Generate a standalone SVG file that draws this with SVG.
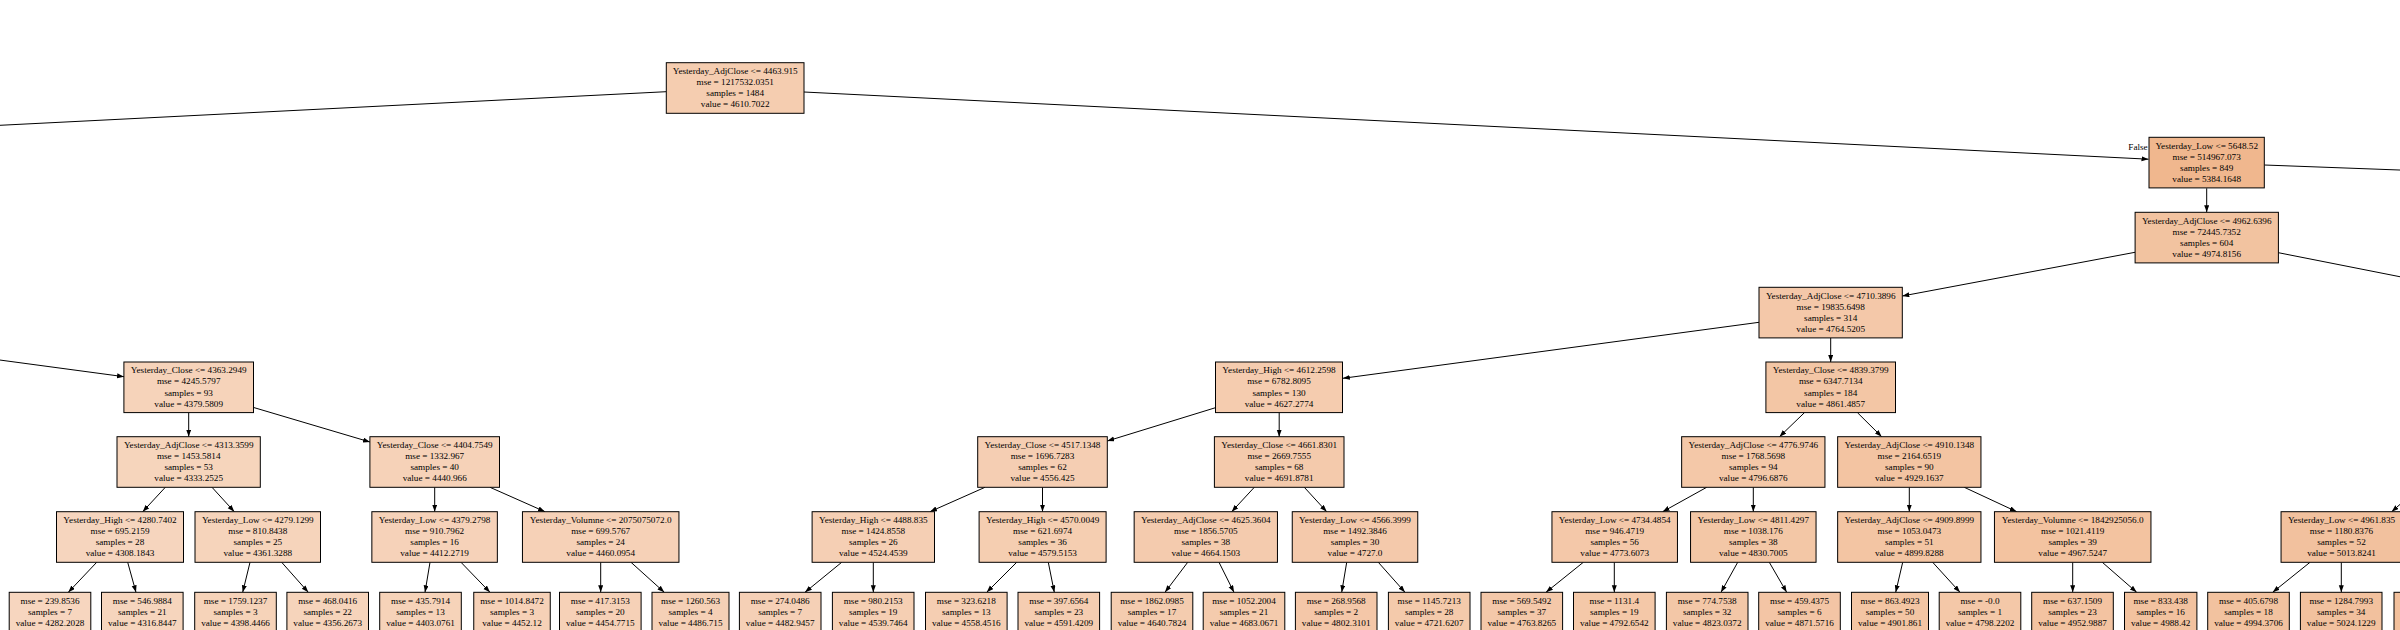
<svg xmlns="http://www.w3.org/2000/svg" width="2400" height="630" viewBox="0 0 2400 630">
<style>
.node rect{stroke:#000;stroke-width:1}
.node text{font-family:"Liberation Serif","Times New Roman",serif;font-size:9.2px;text-anchor:middle;fill:#000}
.lbl{font-family:"Liberation Serif","Times New Roman",serif;font-size:9.2px;text-anchor:middle;fill:#000}
.edges line{stroke:#000;stroke-width:1}
.edges line.a{marker-end:url(#ah)}
</style>
<defs>
<marker id="ah" markerUnits="userSpaceOnUse" markerWidth="8" markerHeight="6" refX="7" refY="2.5" orient="auto"><path d="M0,0 L7,2.5 L0,5 z" fill="#000"/></marker>
</defs>
<rect width="2400" height="630" fill="#fff"/>
<g id="edges" class="edges">
<line x1="666.3" y1="91.7" x2="-10" y2="125.8"/>
<line class="a" x1="-10" y1="358.7" x2="124" y2="376.7"/>
<line class="a" x1="804" y1="92" x2="2148.5" y2="159.2"/>
<line x1="2264.3" y1="165" x2="2410" y2="170.4"/>
<line class="a" x1="2206.7" y1="188.3" x2="2206.7" y2="212.3"/>
<line x1="2278.4" y1="252.7" x2="2410" y2="278.7"/>
<line class="a" x1="2135" y1="252.3" x2="1902.3" y2="296"/>
<line class="a" x1="1759" y1="322.3" x2="1342.8" y2="378.3"/>
<line class="a" x1="1830.7" y1="337.7" x2="1830.7" y2="362"/>
<line class="a" x1="188.7" y1="412.6" x2="188.7" y2="436.7"/>
<line class="a" x1="253" y1="407.3" x2="370" y2="442"/>
<line class="a" x1="1215.5" y1="407.7" x2="1107.3" y2="441"/>
<line class="a" x1="1279.2" y1="412.6" x2="1279.2" y2="436.7"/>
<line class="a" x1="1804.5" y1="412.6" x2="1779.5" y2="436.7"/>
<line class="a" x1="1857.4" y1="412.6" x2="1881.7" y2="436.7"/>
<line class="a" x1="165.3" y1="487.3" x2="142.7" y2="511.7"/>
<line class="a" x1="212" y1="487.3" x2="234.3" y2="511.7"/>
<line class="a" x1="434.7" y1="487.3" x2="434.7" y2="511.7"/>
<line class="a" x1="490" y1="487.3" x2="545" y2="511.7"/>
<line class="a" x1="985" y1="487.3" x2="930" y2="511.7"/>
<line class="a" x1="1042.5" y1="487.3" x2="1042.5" y2="511.7"/>
<line class="a" x1="1254.3" y1="487.3" x2="1231.7" y2="511.7"/>
<line class="a" x1="1304.3" y1="487.3" x2="1326.7" y2="511.7"/>
<line class="a" x1="1706.7" y1="487.3" x2="1662.7" y2="511.7"/>
<line class="a" x1="1753.3" y1="487.3" x2="1753.3" y2="511.7"/>
<line class="a" x1="1909.3" y1="487.3" x2="1909.3" y2="511.7"/>
<line class="a" x1="1964.3" y1="487.3" x2="2016.7" y2="511.7"/>
<line class="a" x1="2410" y1="495.6" x2="2391.7" y2="511.7"/>
<line class="a" x1="96.7" y1="562.3" x2="68.3" y2="592.3"/>
<line class="a" x1="127.7" y1="562.3" x2="136" y2="592.3"/>
<line class="a" x1="250" y1="562.3" x2="242.7" y2="592.3"/>
<line class="a" x1="281.7" y1="562.3" x2="308.3" y2="592.3"/>
<line class="a" x1="430" y1="562.3" x2="425" y2="592.3"/>
<line class="a" x1="461" y1="562.3" x2="490" y2="592.3"/>
<line class="a" x1="600.7" y1="562.3" x2="600.7" y2="592.3"/>
<line class="a" x1="631" y1="562.3" x2="664.3" y2="592.3"/>
<line class="a" x1="841.7" y1="562.3" x2="805" y2="592.3"/>
<line class="a" x1="873.3" y1="562.3" x2="873.3" y2="592.3"/>
<line class="a" x1="1016.7" y1="562.3" x2="986.7" y2="592.3"/>
<line class="a" x1="1048.3" y1="562.3" x2="1054.3" y2="592.3"/>
<line class="a" x1="1187.7" y1="562.3" x2="1165" y2="592.3"/>
<line class="a" x1="1219" y1="562.3" x2="1234" y2="592.3"/>
<line class="a" x1="1346.7" y1="562.3" x2="1341.7" y2="592.3"/>
<line class="a" x1="1378.3" y1="562.3" x2="1405" y2="592.3"/>
<line class="a" x1="1583.3" y1="562.3" x2="1546" y2="592.3"/>
<line class="a" x1="1614.3" y1="562.3" x2="1614.3" y2="592.3"/>
<line class="a" x1="1737.7" y1="562.3" x2="1721" y2="592.3"/>
<line class="a" x1="1769.3" y1="562.3" x2="1786.7" y2="592.3"/>
<line class="a" x1="1902.7" y1="562.3" x2="1895.7" y2="592.3"/>
<line class="a" x1="1932.7" y1="562.3" x2="1960" y2="592.3"/>
<line class="a" x1="2072.7" y1="562.3" x2="2072.7" y2="592.3"/>
<line class="a" x1="2102.3" y1="562.3" x2="2136.7" y2="592.3"/>
<line class="a" x1="2310" y1="562.3" x2="2272.7" y2="592.3"/>
<line class="a" x1="2341.3" y1="562.3" x2="2341.3" y2="592.3"/>
<text class="lbl" x="2138" y="149.5">False</text>
</g>

<g id="n_root" class="node"><rect x="666.3" y="62.7" width="137.7" height="50.6" fill="#f5cdb0"/><text x="735.2" y="74">Yesterday_AdjClose &lt;= 4463.915</text><text x="735.2" y="85.1">mse = 1217532.0351</text><text x="735.2" y="96.2">samples = 1484</text><text x="735.2" y="107.3">value = 4610.7022</text></g>

<g id="n_low5648" class="node"><rect x="2149" y="137.3" width="115.3" height="50.6" fill="#f0b78e"/><text x="2206.7" y="148.6">Yesterday_Low &lt;= 5648.52</text><text x="2206.7" y="159.7">mse = 514967.073</text><text x="2206.7" y="170.8">samples = 849</text><text x="2206.7" y="181.9">value = 5384.1648</text></g>

<g id="n_adj4962" class="node"><rect x="2135.1" y="212.3" width="143.3" height="50.6" fill="#f2c3a0"/><text x="2206.7" y="223.6">Yesterday_AdjClose &lt;= 4962.6396</text><text x="2206.7" y="234.7">mse = 72445.7352</text><text x="2206.7" y="245.8">samples = 604</text><text x="2206.7" y="256.9">value = 4974.8156</text></g>

<g id="n_adj4710" class="node"><rect x="1759" y="287.3" width="143.3" height="50.6" fill="#f4c8a9"/><text x="1830.7" y="298.6">Yesterday_AdjClose &lt;= 4710.3896</text><text x="1830.7" y="309.7">mse = 19835.6498</text><text x="1830.7" y="320.8">samples = 314</text><text x="1830.7" y="331.9">value = 4764.5205</text></g>

<g id="n_close4363" class="node"><rect x="123.9" y="362" width="129.6" height="50.6" fill="#f6d3ba"/><text x="188.7" y="373.3">Yesterday_Close &lt;= 4363.2949</text><text x="188.7" y="384.4">mse = 4245.5797</text><text x="188.7" y="395.5">samples = 93</text><text x="188.7" y="406.6">value = 4379.5809</text></g>

<g id="n_high4612" class="node"><rect x="1215.5" y="362" width="127" height="50.6" fill="#f5ccaf"/><text x="1279" y="373.3">Yesterday_High &lt;= 4612.2598</text><text x="1279" y="384.4">mse = 6782.8095</text><text x="1279" y="395.5">samples = 130</text><text x="1279" y="406.6">value = 4627.2774</text></g>

<g id="n_close4839" class="node"><rect x="1765.9" y="362" width="129.6" height="50.6" fill="#f3c6a5"/><text x="1830.7" y="373.3">Yesterday_Close &lt;= 4839.3799</text><text x="1830.7" y="384.4">mse = 6347.7134</text><text x="1830.7" y="395.5">samples = 184</text><text x="1830.7" y="406.6">value = 4861.4857</text></g>

<g id="n_adj4313" class="node"><rect x="117" y="436.7" width="143.3" height="50.6" fill="#f6d5bc"/><text x="188.7" y="448">Yesterday_AdjClose &lt;= 4313.3599</text><text x="188.7" y="459.1">mse = 1453.5814</text><text x="188.7" y="470.2">samples = 53</text><text x="188.7" y="481.3">value = 4333.2525</text></g>

<g id="n_close4404" class="node"><rect x="369.9" y="436.7" width="129.6" height="50.6" fill="#f6d2b8"/><text x="434.7" y="448">Yesterday_Close &lt;= 4404.7549</text><text x="434.7" y="459.1">mse = 1332.967</text><text x="434.7" y="470.2">samples = 40</text><text x="434.7" y="481.3">value = 4440.966</text></g>

<g id="n_close4517" class="node"><rect x="977.7" y="436.7" width="129.6" height="50.6" fill="#f5ceb3"/><text x="1042.5" y="448">Yesterday_Close &lt;= 4517.1348</text><text x="1042.5" y="459.1">mse = 1696.7283</text><text x="1042.5" y="470.2">samples = 62</text><text x="1042.5" y="481.3">value = 4556.425</text></g>

<g id="n_close4661" class="node"><rect x="1214.4" y="436.7" width="129.6" height="50.6" fill="#f4caac"/><text x="1279.2" y="448">Yesterday_Close &lt;= 4661.8301</text><text x="1279.2" y="459.1">mse = 2669.7555</text><text x="1279.2" y="470.2">samples = 68</text><text x="1279.2" y="481.3">value = 4691.8781</text></g>

<g id="n_adj4776" class="node"><rect x="1681.65" y="436.7" width="143.3" height="50.6" fill="#f4c8a8"/><text x="1753.3" y="448">Yesterday_AdjClose &lt;= 4776.9746</text><text x="1753.3" y="459.1">mse = 1768.5698</text><text x="1753.3" y="470.2">samples = 94</text><text x="1753.3" y="481.3">value = 4796.6876</text></g>

<g id="n_adj4910" class="node"><rect x="1837.65" y="436.7" width="143.3" height="50.6" fill="#f3c4a2"/><text x="1909.3" y="448">Yesterday_AdjClose &lt;= 4910.1348</text><text x="1909.3" y="459.1">mse = 2164.6519</text><text x="1909.3" y="470.2">samples = 90</text><text x="1909.3" y="481.3">value = 4929.1637</text></g>

<g id="n_high4280" class="node"><rect x="56.5" y="511.7" width="127" height="50.6" fill="#f6d5be"/><text x="120" y="523">Yesterday_High &lt;= 4280.7402</text><text x="120" y="534.1">mse = 695.2159</text><text x="120" y="545.2">samples = 28</text><text x="120" y="556.3">value = 4308.1843</text></g>

<g id="n_low4279" class="node"><rect x="195" y="511.7" width="125.5" height="50.6" fill="#f6d4bb"/><text x="257.8" y="523">Yesterday_Low &lt;= 4279.1299</text><text x="257.8" y="534.1">mse = 810.8438</text><text x="257.8" y="545.2">samples = 25</text><text x="257.8" y="556.3">value = 4361.3288</text></g>

<g id="n_low4379" class="node"><rect x="371.85" y="511.7" width="125.5" height="50.6" fill="#f6d2b9"/><text x="434.6" y="523">Yesterday_Low &lt;= 4379.2798</text><text x="434.6" y="534.1">mse = 910.7962</text><text x="434.6" y="545.2">samples = 16</text><text x="434.6" y="556.3">value = 4412.2719</text></g>

<g id="n_vol2075" class="node"><rect x="522.45" y="511.7" width="156.5" height="50.6" fill="#f6d1b7"/><text x="600.7" y="523">Yesterday_Volumne &lt;= 2075075072.0</text><text x="600.7" y="534.1">mse = 699.5767</text><text x="600.7" y="545.2">samples = 24</text><text x="600.7" y="556.3">value = 4460.0954</text></g>

<g id="n_high4488" class="node"><rect x="812.1" y="511.7" width="122.4" height="50.6" fill="#f5cfb4"/><text x="873.3" y="523">Yesterday_High &lt;= 4488.835</text><text x="873.3" y="534.1">mse = 1424.8558</text><text x="873.3" y="545.2">samples = 26</text><text x="873.3" y="556.3">value = 4524.4539</text></g>

<g id="n_high4570" class="node"><rect x="979.1" y="511.7" width="127" height="50.6" fill="#f5ceb1"/><text x="1042.6" y="523">Yesterday_High &lt;= 4570.0049</text><text x="1042.6" y="534.1">mse = 621.6974</text><text x="1042.6" y="545.2">samples = 36</text><text x="1042.6" y="556.3">value = 4579.5153</text></g>

<g id="n_adj4625" class="node"><rect x="1134.15" y="511.7" width="143.3" height="50.6" fill="#f4cbae"/><text x="1205.8" y="523">Yesterday_AdjClose &lt;= 4625.3604</text><text x="1205.8" y="534.1">mse = 1856.5705</text><text x="1205.8" y="545.2">samples = 38</text><text x="1205.8" y="556.3">value = 4664.1503</text></g>

<g id="n_low4566" class="node"><rect x="1292.25" y="511.7" width="125.5" height="50.6" fill="#f4c9ab"/><text x="1355" y="523">Yesterday_Low &lt;= 4566.3999</text><text x="1355" y="534.1">mse = 1492.3846</text><text x="1355" y="545.2">samples = 30</text><text x="1355" y="556.3">value = 4727.0</text></g>

<g id="n_low4734" class="node"><rect x="1551.95" y="511.7" width="125.5" height="50.6" fill="#f4c8a9"/><text x="1614.7" y="523">Yesterday_Low &lt;= 4734.4854</text><text x="1614.7" y="534.1">mse = 946.4719</text><text x="1614.7" y="545.2">samples = 56</text><text x="1614.7" y="556.3">value = 4773.6073</text></g>

<g id="n_low4811" class="node"><rect x="1690.55" y="511.7" width="125.5" height="50.6" fill="#f3c7a6"/><text x="1753.3" y="523">Yesterday_Low &lt;= 4811.4297</text><text x="1753.3" y="534.1">mse = 1038.176</text><text x="1753.3" y="545.2">samples = 38</text><text x="1753.3" y="556.3">value = 4830.7005</text></g>

<g id="n_adj4909" class="node"><rect x="1837.65" y="511.7" width="143.3" height="50.6" fill="#f3c5a3"/><text x="1909.3" y="523">Yesterday_AdjClose &lt;= 4909.8999</text><text x="1909.3" y="534.1">mse = 1053.0473</text><text x="1909.3" y="545.2">samples = 51</text><text x="1909.3" y="556.3">value = 4899.8288</text></g>

<g id="n_vol1842" class="node"><rect x="1994.45" y="511.7" width="156.5" height="50.6" fill="#f3c3a0"/><text x="2072.7" y="523">Yesterday_Volumne &lt;= 1842925056.0</text><text x="2072.7" y="534.1">mse = 1021.4119</text><text x="2072.7" y="545.2">samples = 39</text><text x="2072.7" y="556.3">value = 4967.5247</text></g>

<g id="n_low4961" class="node"><rect x="2281.05" y="511.7" width="120.9" height="50.6" fill="#f2c19e"/><text x="2341.5" y="523">Yesterday_Low &lt;= 4961.835</text><text x="2341.5" y="534.1">mse = 1180.8376</text><text x="2341.5" y="545.2">samples = 52</text><text x="2341.5" y="556.3">value = 5013.8241</text></g>

<g id="l_239" class="node"><rect x="9.2" y="592.3" width="81.6" height="39.6" fill="#f7d6bf"/><text x="50" y="603.8">mse = 239.8536</text><text x="50" y="614.9">samples = 7</text><text x="50" y="626">value = 4282.2028</text></g>
<g id="l_546" class="node"><rect x="101.5" y="592.3" width="81.6" height="39.6" fill="#f6d5bd"/><text x="142.3" y="603.8">mse = 546.9884</text><text x="142.3" y="614.9">samples = 21</text><text x="142.3" y="626">value = 4316.8447</text></g>
<g id="l_1759" class="node"><rect x="194.7" y="592.3" width="81.6" height="39.6" fill="#f6d3b9"/><text x="235.5" y="603.8">mse = 1759.1237</text><text x="235.5" y="614.9">samples = 3</text><text x="235.5" y="626">value = 4398.4466</text></g>
<g id="l_468" class="node"><rect x="286.9" y="592.3" width="81.6" height="39.6" fill="#f6d4bb"/><text x="327.7" y="603.8">mse = 468.0416</text><text x="327.7" y="614.9">samples = 22</text><text x="327.7" y="626">value = 4356.2673</text></g>
<g id="l_435" class="node"><rect x="379.7" y="592.3" width="81.6" height="39.6" fill="#f6d3b9"/><text x="420.5" y="603.8">mse = 435.7914</text><text x="420.5" y="614.9">samples = 13</text><text x="420.5" y="626">value = 4403.0761</text></g>
<g id="l_1014" class="node"><rect x="473.75" y="592.3" width="76.5" height="39.6" fill="#f6d1b7"/><text x="512" y="603.8">mse = 1014.8472</text><text x="512" y="614.9">samples = 3</text><text x="512" y="626">value = 4452.12</text></g>
<g id="l_417" class="node"><rect x="559.5" y="592.3" width="81.6" height="39.6" fill="#f6d1b7"/><text x="600.3" y="603.8">mse = 417.3153</text><text x="600.3" y="614.9">samples = 20</text><text x="600.3" y="626">value = 4454.7715</text></g>
<g id="l_1260" class="node"><rect x="652" y="592.3" width="77" height="39.6" fill="#f5d0b6"/><text x="690.5" y="603.8">mse = 1260.563</text><text x="690.5" y="614.9">samples = 4</text><text x="690.5" y="626">value = 4486.715</text></g>
<g id="l_274" class="node"><rect x="739.4" y="592.3" width="81.6" height="39.6" fill="#f5d0b6"/><text x="780.2" y="603.8">mse = 274.0486</text><text x="780.2" y="614.9">samples = 7</text><text x="780.2" y="626">value = 4482.9457</text></g>
<g id="l_980" class="node"><rect x="832.4" y="592.3" width="81.6" height="39.6" fill="#f5cfb3"/><text x="873.2" y="603.8">mse = 980.2153</text><text x="873.2" y="614.9">samples = 19</text><text x="873.2" y="626">value = 4539.7464</text></g>
<g id="l_323" class="node"><rect x="925.5" y="592.3" width="81.6" height="39.6" fill="#f5ceb2"/><text x="966.3" y="603.8">mse = 323.6218</text><text x="966.3" y="614.9">samples = 13</text><text x="966.3" y="626">value = 4558.4516</text></g>
<g id="l_397" class="node"><rect x="1018" y="592.3" width="81.6" height="39.6" fill="#f5cdb1"/><text x="1058.8" y="603.8">mse = 397.6564</text><text x="1058.8" y="614.9">samples = 23</text><text x="1058.8" y="626">value = 4591.4209</text></g>
<g id="l_1862" class="node"><rect x="1111.2" y="592.3" width="81.6" height="39.6" fill="#f4ccaf"/><text x="1152" y="603.8">mse = 1862.0985</text><text x="1152" y="614.9">samples = 17</text><text x="1152" y="626">value = 4640.7824</text></g>
<g id="l_1052" class="node"><rect x="1203.2" y="592.3" width="81.6" height="39.6" fill="#f4cbad"/><text x="1244" y="603.8">mse = 1052.2004</text><text x="1244" y="614.9">samples = 21</text><text x="1244" y="626">value = 4683.0671</text></g>
<g id="l_268" class="node"><rect x="1295.4" y="592.3" width="81.6" height="39.6" fill="#f4c7a8"/><text x="1336.2" y="603.8">mse = 268.9568</text><text x="1336.2" y="614.9">samples = 2</text><text x="1336.2" y="626">value = 4802.3101</text></g>
<g id="l_1145" class="node"><rect x="1388.4" y="592.3" width="81.6" height="39.6" fill="#f4caab"/><text x="1429.2" y="603.8">mse = 1145.7213</text><text x="1429.2" y="614.9">samples = 28</text><text x="1429.2" y="626">value = 4721.6207</text></g>
<g id="l_569" class="node"><rect x="1481" y="592.3" width="81.6" height="39.6" fill="#f4c8a9"/><text x="1521.8" y="603.8">mse = 569.5492</text><text x="1521.8" y="614.9">samples = 37</text><text x="1521.8" y="626">value = 4763.8265</text></g>
<g id="l_1131" class="node"><rect x="1573.5" y="592.3" width="81.6" height="39.6" fill="#f4c8a8"/><text x="1614.3" y="603.8">mse = 1131.4</text><text x="1614.3" y="614.9">samples = 19</text><text x="1614.3" y="626">value = 4792.6542</text></g>
<g id="l_774" class="node"><rect x="1666.4" y="592.3" width="81.6" height="39.6" fill="#f3c7a7"/><text x="1707.2" y="603.8">mse = 774.7538</text><text x="1707.2" y="614.9">samples = 32</text><text x="1707.2" y="626">value = 4823.0372</text></g>
<g id="l_459" class="node"><rect x="1758.7" y="592.3" width="81.6" height="39.6" fill="#f3c5a5"/><text x="1799.5" y="603.8">mse = 459.4375</text><text x="1799.5" y="614.9">samples = 6</text><text x="1799.5" y="626">value = 4871.5716</text></g>
<g id="l_863" class="node"><rect x="1851.5" y="592.3" width="77" height="39.6" fill="#f3c5a3"/><text x="1890" y="603.8">mse = 863.4923</text><text x="1890" y="614.9">samples = 50</text><text x="1890" y="626">value = 4901.861</text></g>
<g id="l_m0" class="node"><rect x="1939.2" y="592.3" width="81.6" height="39.6" fill="#f4c8a8"/><text x="1980" y="603.8">mse = -0.0</text><text x="1980" y="614.9">samples = 1</text><text x="1980" y="626">value = 4798.2202</text></g>
<g id="l_637" class="node"><rect x="2031.7" y="592.3" width="81.6" height="39.6" fill="#f3c3a1"/><text x="2072.5" y="603.8">mse = 637.1509</text><text x="2072.5" y="614.9">samples = 23</text><text x="2072.5" y="626">value = 4952.9887</text></g>
<g id="l_833" class="node"><rect x="2124.5" y="592.3" width="72.4" height="39.6" fill="#f2c29f"/><text x="2160.7" y="603.8">mse = 833.438</text><text x="2160.7" y="614.9">samples = 16</text><text x="2160.7" y="626">value = 4988.42</text></g>
<g id="l_405" class="node"><rect x="2207.7" y="592.3" width="81.6" height="39.6" fill="#f2c29f"/><text x="2248.5" y="603.8">mse = 405.6798</text><text x="2248.5" y="614.9">samples = 18</text><text x="2248.5" y="626">value = 4994.3706</text></g>
<g id="l_1284" class="node"><rect x="2300.4" y="592.3" width="81.6" height="39.6" fill="#f2c19e"/><text x="2341.2" y="603.8">mse = 1284.7993</text><text x="2341.2" y="614.9">samples = 34</text><text x="2341.2" y="626">value = 5024.1229</text></g>
<g id="l_edge" class="node"><rect x="2394" y="592.3" width="81.6" height="39.6" fill="#f2c09c"/></g>
</svg>
